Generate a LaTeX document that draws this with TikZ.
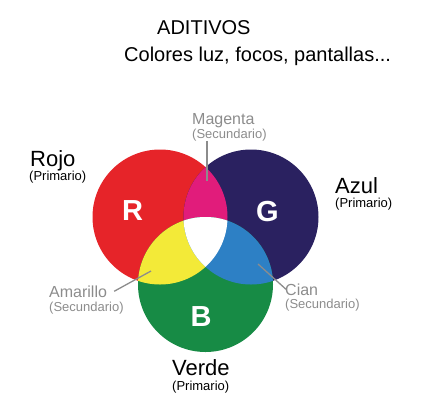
\documentclass[tikz,border=0pt]{standalone}
\usepackage{fontspec}
\setmainfont{Liberation Sans}
\usetikzlibrary{calc}
\definecolor{colRojo}{HTML}{E62429}
\definecolor{colAzul}{HTML}{2A2160}
\definecolor{colVerde}{HTML}{178B45}
\definecolor{colMagenta}{HTML}{E11C7B}
\definecolor{colAmarillo}{HTML}{F3EA38}
\definecolor{colCian}{HTML}{2D80C5}
\definecolor{colGris}{HTML}{8C8C8C}
\tikzset{
  titulo/.style={anchor=base west,inner sep=0pt,font=\fontsize{20}{22}\selectfont},
  primario/.style={anchor=base west,inner sep=0pt,font=\fontsize{22}{24}\selectfont},
  nota/.style={anchor=base west,inner sep=0pt,font=\fontsize{13}{15}\selectfont},
  secundario/.style={anchor=base west,inner sep=0pt,text=colGris,font=\fontsize{16}{18}\selectfont},
  letra/.style={anchor=base,inner sep=0pt,text=white,font=\bfseries\fontsize{29}{30}\selectfont},
  guia/.style={draw=colGris,line width=1.3pt}
}
\begin{document}
\begin{tikzpicture}[x=1pt,y=-1pt]
\useasboundingbox (0,0) rectangle (431,408);

% centres of the three lights
\coordinate (cR) at (160,217);
\coordinate (cG) at (251,217);
\coordinate (cB) at (205.5,284.5);
\def\rad{67.5}

\fill[colRojo]  (cR) circle (\rad);
\fill[colAzul]  (cG) circle (\rad);
\fill[colVerde] (cB) circle (\rad);

% two by two overlaps
\foreach \a/\b/\col in {cR/cG/colMagenta,cR/cB/colAmarillo,cG/cB/colCian}{
  \begin{scope}
    \clip (\a) circle (\rad);
    \fill[\col] (\b) circle (\rad);
  \end{scope}
}

\begin{scope} % white centre
  \clip (cR) circle (\rad);
  \clip (cG) circle (\rad);
  \fill[white] (cB) circle (\rad);
\end{scope}

\node[letra] (letraR) at (132.5,220) {R};
\node[letra] (letraG) at (267.5,221) {G};
\node[letra] (letraB) at (201,326) {B};

% titles
\node[titulo] (aditivos) at (157,34) {ADITIVOS};
\node[titulo] (subtitulo) at (124,61) {Colores luz, focos, pantallas...};

% primaries
\node[primario] (rojo) at (30,166) {Rojo};
\node[nota] (rojoSub) at (29,180.5) {(Primario)};
\node[primario] (azul) at (335,193) {Azul};
\node[nota] (azulSub) at (335,207.5) {(Primario)};
\node[primario] (verde) at (172,375.5) {Verde};
\node[nota] (verdeSub) at (172,390) {(Primario)};

% secondaries
\node[secundario] (magenta) at (192,124.5) {Magenta};
\node[nota,text=colGris] (magentaSub) at (192,138) {(Secundario)};
\node[secundario] (amarillo) at (49,297) {Amarillo};
\node[nota,text=colGris] (amarilloSub) at (49,311) {(Secundario)};
\node[secundario] (cian) at (285,295) {Cian};
\node[nota,text=colGris] (cianSub) at (285,308.5) {(Secundario)};

\coordinate (puntoMagenta) at (207,181);
\coordinate (puntoAmarillo) at (151,271);
\coordinate (puntoCian) at (258,264);

\draw[guia] (magentaSub.south -| puntoMagenta) -- (puntoMagenta);
\draw[guia] ([xshift=7pt]amarillo.east) -- (puntoAmarillo);
\draw[guia] (puntoCian) -- ([xshift=1pt]cian.west);

\end{tikzpicture}
\end{document}
